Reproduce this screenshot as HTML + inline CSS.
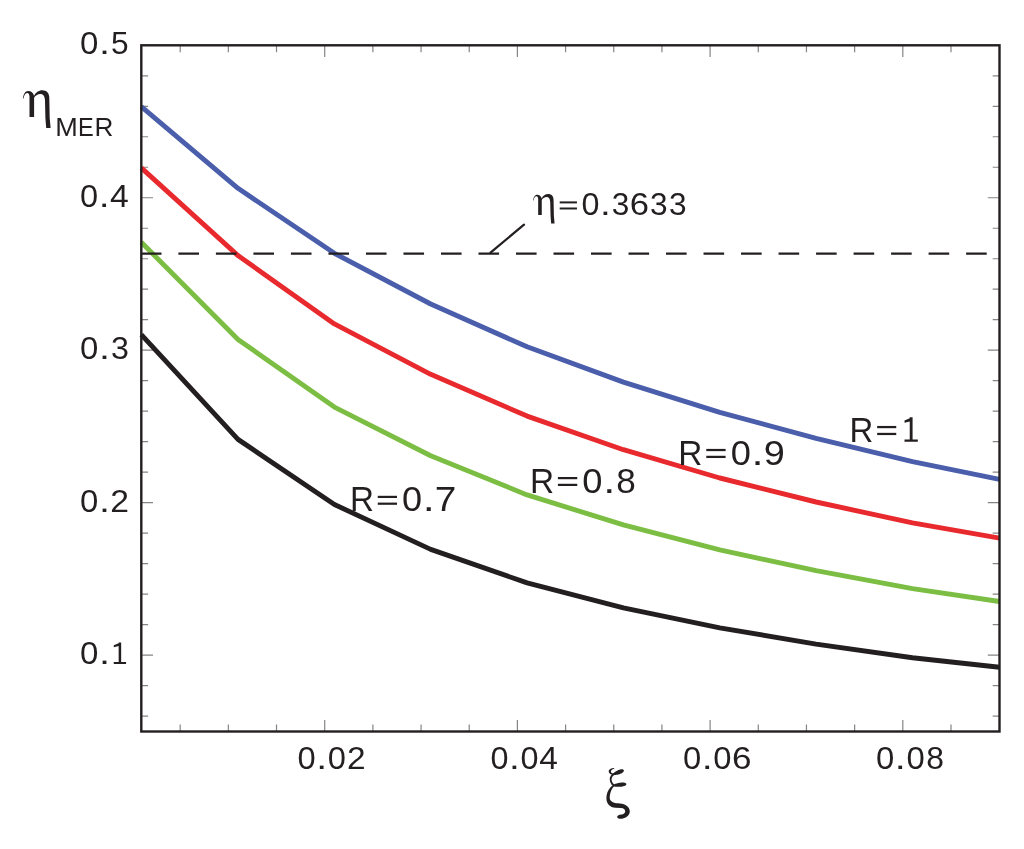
<!DOCTYPE html><html><head><meta charset="utf-8"><style>html,body{margin:0;padding:0;background:#fff;}svg{display:block;}</style></head><body>
<svg width="1024" height="849" viewBox="0 0 1024 849">
<rect width="1024" height="849" fill="#fff"/>
<defs><clipPath id="pa"><rect x="141.3" y="45.3" width="858.2" height="686.2"/></clipPath></defs>
<path d="M141.30 716.08H148.10M999.50 716.08H992.70M141.30 685.59H148.10M999.50 685.59H992.70M141.30 655.10H153.00M999.50 655.10H987.80M141.30 624.61H148.10M999.50 624.61H992.70M141.30 594.12H148.10M999.50 594.12H992.70M141.30 563.63H148.10M999.50 563.63H992.70M141.30 533.14H148.10M999.50 533.14H992.70M141.30 502.65H153.00M999.50 502.65H987.80M141.30 472.16H148.10M999.50 472.16H992.70M141.30 441.67H148.10M999.50 441.67H992.70M141.30 411.18H148.10M999.50 411.18H992.70M141.30 380.69H148.10M999.50 380.69H992.70M141.30 350.20H153.00M999.50 350.20H987.80M141.30 319.71H148.10M999.50 319.71H992.70M141.30 289.22H148.10M999.50 289.22H992.70M141.30 258.73H148.10M999.50 258.73H992.70M141.30 228.24H148.10M999.50 228.24H992.70M141.30 197.75H153.00M999.50 197.75H987.80M141.30 167.26H148.10M999.50 167.26H992.70M141.30 136.77H148.10M999.50 136.77H992.70M141.30 106.28H148.10M999.50 106.28H992.70M141.30 75.79H148.10M999.50 75.79H992.70M180.18 731.50V724.50M180.18 45.30V52.30M228.35 731.50V724.50M228.35 45.30V52.30M276.52 731.50V724.50M276.52 45.30V52.30M324.70 731.50V719.90M324.70 45.30V56.90M372.88 731.50V724.50M372.88 45.30V52.30M421.05 731.50V724.50M421.05 45.30V52.30M469.23 731.50V724.50M469.23 45.30V52.30M517.40 731.50V719.90M517.40 45.30V56.90M565.58 731.50V724.50M565.58 45.30V52.30M613.75 731.50V724.50M613.75 45.30V52.30M661.92 731.50V724.50M661.92 45.30V52.30M710.10 731.50V719.90M710.10 45.30V56.90M758.27 731.50V724.50M758.27 45.30V52.30M806.45 731.50V724.50M806.45 45.30V52.30M854.62 731.50V724.50M854.62 45.30V52.30M902.80 731.50V719.90M902.80 45.30V56.90M950.98 731.50V724.50M950.98 45.30V52.30" stroke="#231F20" stroke-opacity="0.55" stroke-width="1.2" fill="none"/>
<g fill="none" stroke-width="4.9" stroke-linejoin="round" stroke-linecap="butt">
<polyline points="141.3,106.6 238.0,188.3 334.4,253.3 430.7,304.0 527.1,346.8 623.4,382.1 719.8,412.4 816.1,438.3 912.5,461.6 999.5,479.3" stroke="#4A5EAB"/>
<polyline points="141.3,167.9 238.0,255.6 334.4,323.9 430.7,374.3 527.1,416.1 623.4,449.7 719.8,478.0 816.1,502.0 912.5,522.9 999.5,538.2" stroke="#E8292D"/>
<polyline points="141.3,242.3 238.0,339.4 334.4,407.1 430.7,455.7 527.1,494.9 623.4,524.9 719.8,549.9 816.1,570.7 912.5,588.7 999.5,601.5" stroke="#7CBE43"/>
<polyline points="141.3,334.7 238.0,439.4 334.4,504.5 430.7,549.4 527.1,582.9 623.4,607.9 719.8,627.9 816.1,644.1 912.5,657.7 999.5,667.2" stroke="#231F20"/>
</g>
<path d="M141.30 253.6H999.50" stroke="#231F20" stroke-width="2.3" stroke-dasharray="20.6 16.91" stroke-dashoffset="37.92" fill="none" clip-path="url(#pa)"/>
<path d="M490.5 252.6L524.0 224.7" stroke="#231F20" stroke-width="2.2" stroke-linecap="round" fill="none"/>
<rect x="141.3" y="45.3" width="858.20" height="686.20" fill="none" stroke="#231F20" stroke-width="2.4"/>
<g opacity="0.999">
<g font-family='"Liberation Sans", sans-serif' font-size="31.25" fill="#231F20"><text transform="translate(89.20,54.40) scale(1.0578,1)" x="-8.69" y="0">0</text><text transform="translate(104.54,54.40) scale(1.2683,1)" x="-4.34" y="0">.</text><text transform="translate(119.88,54.40) scale(1.0147,1)" x="-8.66" y="0">5</text></g>
<g font-family='"Liberation Sans", sans-serif' font-size="31.25" fill="#231F20"><text transform="translate(89.08,206.80) scale(1.0420,1)" x="-8.69" y="0">0</text><text transform="translate(104.19,206.80) scale(1.2494,1)" x="-4.34" y="0">.</text><text transform="translate(119.31,206.80) scale(1.0787,1)" x="-8.59" y="0">4</text></g>
<g font-family='"Liberation Sans", sans-serif' font-size="31.25" fill="#231F20"><text transform="translate(89.17,359.40) scale(1.0542,1)" x="-8.69" y="0">0</text><text transform="translate(104.46,359.40) scale(1.2641,1)" x="-4.34" y="0">.</text><text transform="translate(119.75,359.40) scale(1.0320,1)" x="-8.60" y="0">3</text></g>
<g font-family='"Liberation Sans", sans-serif' font-size="31.25" fill="#231F20"><text transform="translate(89.17,511.60) scale(1.0535,1)" x="-8.69" y="0">0</text><text transform="translate(104.45,511.60) scale(1.2633,1)" x="-4.34" y="0">.</text><text transform="translate(119.73,511.60) scale(1.0776,1)" x="-8.69" y="0">2</text></g>
<g font-family='"Liberation Sans", sans-serif' font-size="31.25" fill="#231F20"><text transform="translate(89.21,663.90) scale(1.0585,1)" x="-8.69" y="0">0</text><text transform="translate(104.56,663.90) scale(1.2692,1)" x="-4.34" y="0">.</text><path d="M118.66 642.40H121.16V661.92H126.05V663.90H113.77V661.92H118.66V646.05L113.77 647.24V645.19L118.66 643.15Z"/></g>
<g font-family='"Liberation Sans", sans-serif' font-size="31.25" fill="#231F20"><text transform="translate(306.52,768.60) scale(1.0465,1)" x="-8.69" y="0">0</text><text transform="translate(321.70,768.60) scale(1.2549,1)" x="-4.34" y="0">.</text><text transform="translate(336.87,768.60) scale(1.0465,1)" x="-8.69" y="0">0</text><text transform="translate(356.18,768.60) scale(1.0704,1)" x="-8.69" y="0">2</text></g>
<g font-family='"Liberation Sans", sans-serif' font-size="31.25" fill="#231F20"><text transform="translate(499.43,768.60) scale(1.0353,1)" x="-8.69" y="0">0</text><text transform="translate(514.45,768.60) scale(1.2414,1)" x="-4.34" y="0">.</text><text transform="translate(529.46,768.60) scale(1.0353,1)" x="-8.69" y="0">0</text><text transform="translate(548.56,768.60) scale(1.0717,1)" x="-8.59" y="0">4</text></g>
<g font-family='"Liberation Sans", sans-serif' font-size="31.25" fill="#231F20"><text transform="translate(692.03,768.60) scale(1.0488,1)" x="-8.69" y="0">0</text><text transform="translate(707.25,768.60) scale(1.2576,1)" x="-4.34" y="0">.</text><text transform="translate(722.46,768.60) scale(1.0488,1)" x="-8.69" y="0">0</text><text transform="translate(741.81,768.60) scale(1.1224,1)" x="-8.80" y="0">6</text></g>
<g font-family='"Liberation Sans", sans-serif' font-size="31.25" fill="#231F20"><text transform="translate(885.06,768.60) scale(1.0527,1)" x="-8.69" y="0">0</text><text transform="translate(900.33,768.60) scale(1.2623,1)" x="-4.34" y="0">.</text><text transform="translate(915.60,768.60) scale(1.0527,1)" x="-8.69" y="0">0</text><text transform="translate(935.02,768.60) scale(1.0203,1)" x="-8.69" y="0">8</text></g>
<g font-family='"Liberation Sans", sans-serif' font-size="34.88" fill="#231F20"><text transform="translate(362.57,511.30) scale(0.9529,1)" x="-13.22" y="0">R</text><rect x="377.76" y="495.80" width="19.24" height="2.21"/><rect x="377.76" y="502.59" width="19.24" height="2.21"/><text transform="translate(412.03,511.30) scale(1.0332,1)" x="-9.70" y="0">0</text><text transform="translate(428.76,511.30) scale(1.2389,1)" x="-4.85" y="0">.</text><text transform="translate(445.48,511.30) scale(1.1118,1)" x="-9.72" y="0">7</text></g>
<g font-family='"Liberation Sans", sans-serif' font-size="34.88" fill="#231F20"><text transform="translate(542.63,492.50) scale(0.9588,1)" x="-13.22" y="0">R</text><rect x="557.91" y="477.00" width="19.35" height="2.21"/><rect x="557.91" y="483.79" width="19.35" height="2.21"/><text transform="translate(592.39,492.50) scale(1.0395,1)" x="-9.70" y="0">0</text><text transform="translate(609.22,492.50) scale(1.2464,1)" x="-4.85" y="0">.</text><text transform="translate(626.05,492.50) scale(1.0076,1)" x="-9.70" y="0">8</text></g>
<g font-family='"Liberation Sans", sans-serif' font-size="35.32" fill="#231F20"><text transform="translate(691.02,464.60) scale(0.9460,1)" x="-13.38" y="0">R</text><rect x="706.28" y="448.90" width="19.33" height="2.24"/><rect x="706.28" y="455.78" width="19.33" height="2.24"/><text transform="translate(740.73,464.60) scale(1.0256,1)" x="-9.82" y="0">0</text><text transform="translate(757.55,464.60) scale(1.2298,1)" x="-4.91" y="0">.</text><text transform="translate(774.36,464.60) scale(1.0717,1)" x="-9.81" y="0">9</text></g>
<g font-family='"Liberation Sans", sans-serif' font-size="35.47" fill="#231F20"><text transform="translate(862.09,441.70) scale(0.9299,1)" x="-13.44" y="0">R</text><rect x="877.16" y="425.94" width="19.08" height="2.24"/><rect x="877.16" y="432.84" width="19.08" height="2.24"/><path d="M909.75 417.30H912.58V439.46H917.80V441.70H904.52V439.46H909.75V421.45L904.52 422.79V420.47L909.75 418.15Z"/></g>
<path d="M22.9 98.6C23.2 94.5 25.2 91.0 28.2 91.0C31.2 91.0 33.3 93.0 34.05 95.8C35.6 92.6 38.6 90.2 42.3 90.2C46.6 90.2 49.2 93.0 49.3 97.5L49.7 118.0L50.6 128.1L46.2 128.1L45.4 118.0L45.0 100.5C44.8 96.0 43.0 94.0 40.5 94.0C37.5 94.0 35.2 95.8 34.1 97.8L34.1 117.0L29.5 117.0L29.5 96.8C29.5 94.3 28.6 92.9 27.2 92.9C25.2 92.9 23.9 95.5 23.5 98.6Z" fill="#231F20" transform="translate(515.26,124.0) scale(0.777)"/>
<g font-family='"Liberation Sans", sans-serif' font-size="31.25" fill="#231F20"><rect x="559.70" y="201.41" width="17.25" height="1.98"/><rect x="559.70" y="207.50" width="17.25" height="1.98"/><text transform="translate(590.44,215.30) scale(1.0344,1)" x="-8.69" y="0">0</text><text transform="translate(605.44,215.30) scale(1.2404,1)" x="-4.34" y="0">.</text><text transform="translate(620.45,215.30) scale(1.0126,1)" x="-8.60" y="0">3</text><text transform="translate(639.53,215.30) scale(1.1070,1)" x="-8.80" y="0">6</text><text transform="translate(658.61,215.30) scale(1.0126,1)" x="-8.60" y="0">3</text><text transform="translate(677.70,215.30) scale(1.0126,1)" x="-8.60" y="0">3</text></g>
<path id="eta" d="M22.9 98.6C23.2 94.5 25.2 91.0 28.2 91.0C31.2 91.0 33.3 93.0 34.05 95.8C35.6 92.6 38.6 90.2 42.3 90.2C46.6 90.2 49.2 93.0 49.3 97.5L49.7 118.0L50.6 128.1L46.2 128.1L45.4 118.0L45.0 100.5C44.8 96.0 43.0 94.0 40.5 94.0C37.5 94.0 35.2 95.8 34.1 97.8L34.1 117.0L29.5 117.0L29.5 96.8C29.5 94.3 28.6 92.9 27.2 92.9C25.2 92.9 23.9 95.5 23.5 98.6Z" fill="#231F20"/>
<g font-family='"Liberation Sans", sans-serif' font-size="26.31" fill="#231F20"><text transform="translate(66.55,135.90) scale(1.0287,1)" x="-10.96" y="0">M</text><text transform="translate(86.22,135.90) scale(0.8950,1)" x="-9.29" y="0">E</text><text transform="translate(104.34,135.90) scale(0.9939,1)" x="-9.97" y="0">R</text></g>
<g fill="#231F20"><path d="M614.2 767.9C611.5 767.9 608.6 769.3 608.7 771.5C608.8 773.5 610.8 774.8 613.0 774.7L613.2 773.6C611.8 773.5 610.8 772.6 610.9 771.6C611.0 770.0 612.5 769.0 614.2 768.7Z"/><path d="M612.85 775.25L613.38 775.21L613.90 775.16L614.42 775.11L614.95 775.05L615.46 774.99L615.98 774.92L616.49 774.85L617.00 774.76L617.50 774.66L618.00 774.55L618.50 774.43L618.99 774.30L619.47 774.15L619.95 773.98L620.42 773.81L620.89 773.61L621.35 773.39L621.79 773.14L622.23 772.86L622.65 772.55L623.05 772.20L623.43 771.79L623.78 771.27L623.90 770.20L623.90 770.20L623.08 769.49L622.48 769.34L621.92 769.30L621.39 769.31L620.87 769.37L620.36 769.46L619.86 769.58L619.38 769.72L618.90 769.89L618.43 770.08L617.97 770.29L617.51 770.50L617.06 770.73L616.61 770.98L616.17 771.24L615.73 771.51L615.30 771.79L614.87 772.08L614.44 772.37L614.02 772.68L613.60 772.99L613.18 773.31L612.76 773.63L612.35 773.95Z"/><path d="M613.2 774.6C610.8 776.5 610.3 779.5 611.0 781.5C611.7 783.5 613.0 785.0 614.0 785.5" fill="none" stroke="#231F20" stroke-width="1.9"/><path d="M612.89 786.39L613.48 786.46L614.07 786.53L614.65 786.59L615.24 786.65L615.82 786.71L616.41 786.75L616.99 786.79L617.57 786.81L618.15 786.83L618.73 786.83L619.31 786.82L619.88 786.79L620.46 786.76L621.03 786.70L621.60 786.63L622.17 786.54L622.73 786.43L623.30 786.29L623.85 786.12L624.41 785.92L624.96 785.68L625.50 785.38L626.03 784.97L626.50 784.00L626.50 784.00L625.82 783.16L625.21 782.89L624.61 782.72L624.02 782.61L623.44 782.55L622.85 782.51L622.28 782.51L621.70 782.53L621.13 782.57L620.55 782.63L619.98 782.71L619.42 782.81L618.85 782.91L618.29 783.04L617.72 783.17L617.16 783.32L616.60 783.48L616.04 783.65L615.49 783.83L614.93 784.01L614.37 784.21L613.82 784.40L613.26 784.60L612.71 784.81Z"/><path d="M612.3 785.8C609.5 787.8 606.5 792.0 606.4 798.2C606.4 803.5 610.0 807.4 615.5 807.7L621.0 808.0C623.5 808.2 625.2 809.5 625.2 811.3C625.2 813.0 623.5 814.3 621.5 814.6C618.5 814.8 616.8 816.0 617.2 817.3C617.7 818.7 620.0 819.0 622.0 818.7C626.5 818.0 630.0 815.0 629.8 811.3C629.6 807.0 625.5 803.8 620.0 803.5C615.0 803.2 611.5 802.5 610.0 799.5C609.2 796.0 610.5 790.0 614.2 786.0Z"/></g>
</g>
</svg></body></html>
